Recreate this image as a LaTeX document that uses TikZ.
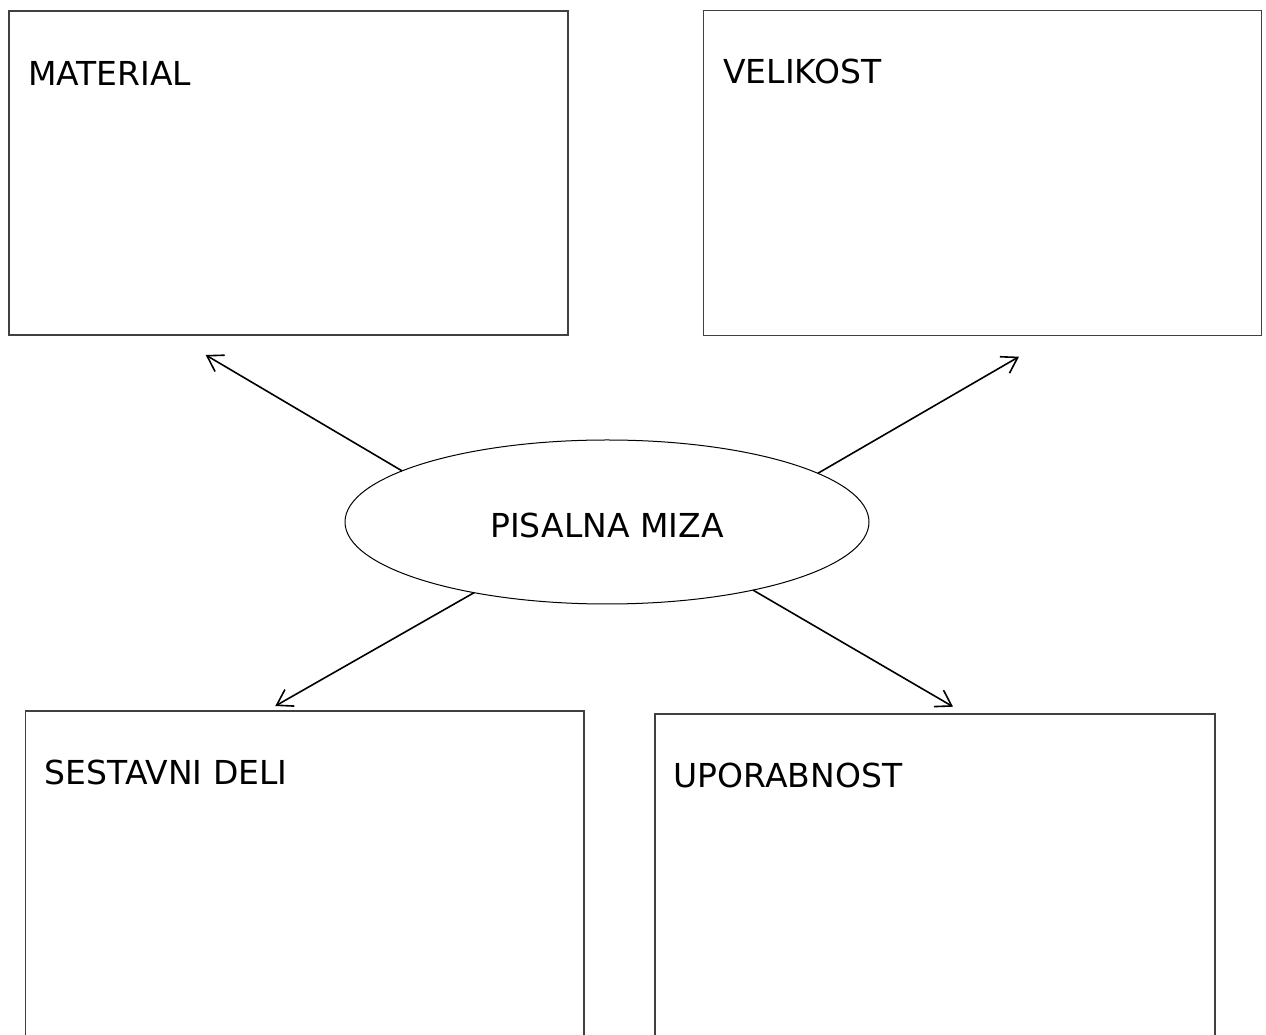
\documentclass[tikz,border=0pt]{standalone}
\usepackage{fontspec}
\setmainfont{DejaVu Sans}
\usetikzlibrary{shapes.geometric,arrows.meta,positioning}
\tikzstyle{box} = [rectangle, anchor=north west, inner sep=0pt, outer sep=0pt, draw=black!75, line width=1.2pt]
\tikzstyle{title} = [anchor=base west, inner sep=0pt, font=\fontsize{33}{40}\selectfont]
\tikzstyle{oval} = [ellipse, draw=black, line width=1pt, inner sep=0pt, outer sep=0pt, minimum width=524pt, minimum height=164pt]
\tikzstyle{arrow} = [line width=1.6pt, -{Straight Barb[length=15pt,width=19pt,line width=1.6pt]}]

\begin{document}
\begin{tikzpicture}[x=1pt,y=1pt]
	\useasboundingbox (0,0) rectangle (1266,1034);
	% the four boxes
	\node[box, minimum width=559pt, minimum height=324pt] (mat) at (9,1023) {};
	\node[box, minimum width=558pt, minimum height=325pt] (vel) at (703.5,1023.5) {};
	\node[box, minimum width=558.5pt, minimum height=360pt] (ses) at (25.5,323) {};
	\node[box, minimum width=560pt, minimum height=360pt] (upo) at (655,320) {};
	
	\node[title] (matt) at ([shift={(19,-75)}]mat.north west) {MATERIAL};
	\node[title] (velt) at ([shift={(19.5,-73)}]vel.north west) {VELIKOST};
	\node[title] (sest) at ([shift={(19,-73)}]ses.north west) {SESTAVNI DELI};
	\node[title] (upot) at ([shift={(18.5,-73)}]upo.north west) {UPORABNOST};
	
	% centre
	\node[oval] (miza) at (607,512) {};
	\node[font=\fontsize{33}{40}\selectfont, inner sep=0pt] (mizat) at (607,508.5) {PISALNA MIZA};
	
	\coordinate (tmat) at (205.7,679);
	\coordinate (tvel) at (1019,677.3);
	\coordinate (tses) at (275.3,328);
	\coordinate (tupo) at (953,327.3);
	
	\draw[arrow] (miza.166) -- (tmat);
	\draw[arrow] (miza.13.3) -- (tvel);
	\draw[arrow] (miza.208.8) -- (tses);
	\draw[arrow] (miza.335) -- (tupo);
\end{tikzpicture}
\end{document}
